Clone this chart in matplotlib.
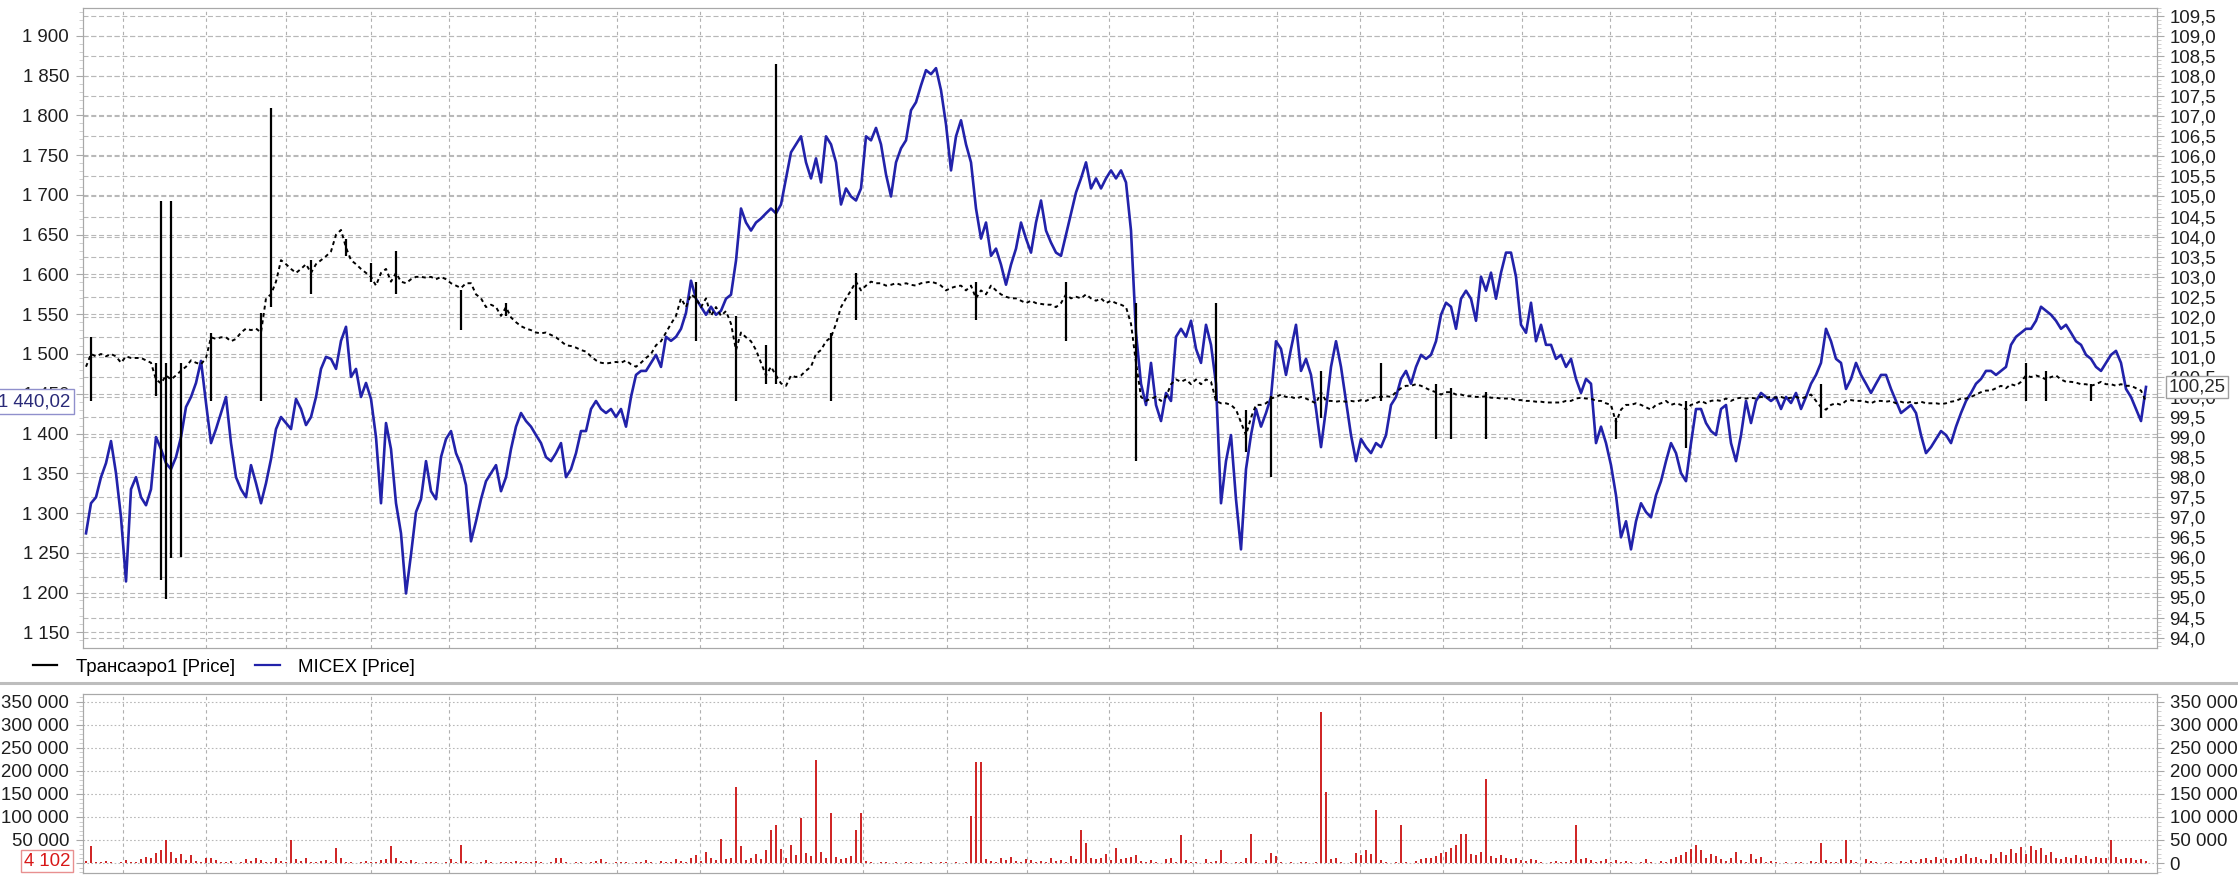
import matplotlib
matplotlib.use('Agg')
import matplotlib.pyplot as plt
from matplotlib.ticker import MultipleLocator, FuncFormatter
from matplotlib.transforms import blended_transform_factory
from matplotlib.lines import Line2D
import numpy as np

# MICEX [Price], right axis (one value per bar)
micex = [
    96.6, 97.35, 97.5, 98.0, 98.35, 98.9, 98.1, 97.0, 95.4, 97.7,
    98.0, 97.5, 97.3, 97.7, 99.0, 98.7, 98.35, 98.2, 98.5, 99.0,
    99.75, 100.0, 100.35, 100.9, 99.85, 98.85, 99.2, 99.6, 100.0, 98.85,
    98.0, 97.7, 97.5, 98.3, 97.85, 97.35, 97.85, 98.45, 99.2, 99.5,
    99.35, 99.2, 99.95, 99.7, 99.3, 99.5, 100.0, 100.7, 101.0, 100.95,
    100.7, 101.4, 101.75, 100.5, 100.7, 100.0, 100.35, 99.95, 99.0, 97.35,
    99.35, 98.7, 97.35,
    96.6, 95.1, 96.07, 97.13, 97.45, 98.4, 97.65, 97.45, 98.5, 98.95,
    99.15, 98.6, 98.3, 97.8, 96.4, 96.9, 97.45, 97.9, 98.1, 98.3,
    97.65, 98.0, 98.7, 99.26, 99.6, 99.4, 99.26, 99.05, 98.85, 98.5,
    98.4, 98.6, 98.85, 98.0, 98.2, 98.6, 99.15, 99.15, 99.7, 99.9,
    99.7, 99.6,
    99.7, 99.5, 99.7, 99.26, 100.0, 100.55, 100.65, 100.65, 100.85, 101.05,
    100.75, 101.5, 101.4, 101.5, 101.7, 102.1, 102.9, 102.45, 102.25, 102.05,
    102.25, 102.05, 102.15, 102.45, 102.55, 103.4, 104.7, 104.35, 104.15, 104.35,
    104.45, 104.58, 104.7, 104.58, 104.8, 105.45, 106.1, 106.3, 106.5, 105.85,
    105.45, 105.95, 105.35, 106.5, 106.3, 105.85, 104.8, 105.2, 105.0, 104.9,
    105.2, 106.5, 106.4, 106.71, 106.3, 105.55, 105.0, 105.85, 106.2, 106.4,
    107.15, 107.35, 107.77, 108.15, 108.05, 108.2, 107.65, 106.8, 105.65, 106.5,
    106.9, 106.3, 105.85, 104.7, 103.95, 104.35, 103.52, 103.7, 103.3, 102.8,
    103.3, 103.7, 104.35, 103.95, 103.6, 104.35, 104.9, 104.15, 103.85, 103.6,
    103.52, 104.05, 104.58, 105.1, 105.45, 105.85, 105.2, 105.45, 105.2, 105.45,
    105.65, 105.45, 105.65, 105.35,
    104.15, 101.6, 100.33, 99.8, 100.85, 99.8, 99.4, 100.1, 99.9, 101.5,
    101.7, 101.5, 101.9, 101.2, 100.85, 101.8, 101.3, 100.33, 97.35, 98.4,
    99.05, 97.45, 96.2, 98.2, 99.05, 99.7, 99.26, 99.6, 100.0, 101.39,
    101.2, 100.55, 101.2, 101.8, 100.65, 100.95, 100.55, 99.7, 98.75, 99.7,
    100.75, 101.39, 100.75, 99.9, 99.05, 98.4, 98.95, 98.75, 98.6, 98.85,
    98.75, 99.05, 99.8, 100.0, 100.45, 100.65, 100.33, 100.75, 101.05, 100.95,
    101.05, 101.39, 102.05, 102.35, 102.25, 101.7, 102.45, 102.65, 102.45, 101.9,
    103.0, 102.65, 103.1, 102.45, 103.1, 103.6, 103.6, 103.0, 101.8, 101.6,
    102.35, 101.39, 101.8, 101.3, 101.3, 100.95, 101.05, 100.75, 100.95, 100.45,
    100.1, 100.45, 100.33, 98.85, 99.26, 98.85, 98.3, 97.55, 96.5, 96.9,
    96.2, 96.9, 97.35, 97.13,
    97.0, 97.55, 97.9, 98.4, 98.85, 98.6, 98.1, 97.9, 98.85, 99.7,
    99.7, 99.35, 99.15, 99.05, 99.7, 99.8, 98.85, 98.4, 99.05, 99.9,
    99.35, 99.9, 100.1, 100.0, 99.9, 100.0, 99.7, 100.0, 99.85, 100.1,
    99.7, 100.0, 100.33, 100.55, 100.85, 101.7, 101.39, 100.95, 100.85, 100.2,
    100.45, 100.85, 100.55, 100.33, 100.1, 100.33, 100.55, 100.55, 100.2, 99.9,
    99.6, 99.7, 99.8, 99.6, 99.05, 98.6, 98.75, 98.95, 99.15, 99.05,
    98.85, 99.26, 99.6, 99.9, 100.1, 100.33, 100.45, 100.65, 100.65, 100.55,
    100.65, 100.75, 101.3, 101.5, 101.6, 101.7, 101.7, 101.9, 102.25, 102.15,
    102.05, 101.9, 101.7, 101.8, 101.6, 101.39, 101.3, 101.05, 100.95, 100.75,
    100.65, 100.85, 101.05, 101.15, 100.85, 100.2, 100.0, 99.7, 99.4, 100.25,
]

# Трансаэро1 [Price], left axis
trans = [
    1484, 1500, 1497, 1500, 1497, 1500, 1497, 1489, 1497, 1495,
    1495, 1495, 1492, 1489, 1468, 1463, 1473, 1468, 1473, 1479,
    1484, 1492, 1489, 1487, 1495, 1521, 1519, 1521, 1521, 1516,
    1519, 1527, 1532, 1530, 1532, 1527, 1570, 1575, 1591, 1618,
    1613, 1607, 1602, 1607, 1613, 1602, 1613, 1618, 1623, 1629,
    1650, 1656, 1634, 1618, 1613, 1607, 1602, 1597, 1586, 1602,
    1607, 1591, 1602, 1591, 1589, 1594, 1597, 1597, 1596, 1597,
    1594, 1597, 1594, 1589, 1586, 1583, 1589, 1589, 1575, 1570,
    1559, 1562, 1559, 1548, 1559, 1546, 1540, 1535, 1532, 1530,
    1527, 1526, 1527, 1524, 1521, 1516, 1511, 1510, 1508, 1505,
    1503, 1497, 1492, 1489, 1488,
    1489, 1490, 1489, 1492, 1487, 1484, 1489, 1495, 1500, 1511,
    1516, 1527, 1538, 1548, 1570, 1559, 1575, 1570, 1559, 1570,
    1548, 1559, 1548, 1554, 1538, 1505, 1527, 1521, 1516, 1505,
    1489, 1473, 1484, 1473, 1463, 1460, 1473, 1471, 1473, 1479,
    1484, 1500, 1505, 1516, 1521, 1538, 1559, 1570, 1580, 1591,
    1580, 1586, 1591, 1589, 1589, 1586, 1587, 1589, 1587, 1589,
    1587, 1586, 1589, 1590, 1591, 1589, 1586, 1580, 1583, 1585,
    1586, 1580, 1586, 1570, 1580, 1575, 1586, 1580, 1575, 1572,
    1570, 1570, 1567, 1564, 1567, 1564, 1563, 1562, 1562, 1559,
    1564, 1575, 1570, 1572, 1570, 1575, 1570, 1567, 1570, 1564,
    1567, 1564, 1562, 1559,
    1538, 1489, 1446, 1441, 1444, 1446, 1441, 1446, 1462, 1468,
    1465, 1468, 1462, 1468, 1462, 1468, 1465, 1441, 1438, 1438,
    1436, 1430, 1414, 1398, 1420, 1436, 1436, 1438, 1444, 1446,
    1449, 1446, 1446, 1444, 1446, 1444, 1441, 1438, 1452, 1441,
    1441, 1440, 1441, 1440, 1441, 1440, 1442, 1441, 1444, 1446,
    1446, 1447, 1446, 1452, 1457, 1460, 1460, 1462, 1460, 1457,
    1454, 1452, 1449, 1452, 1452, 1449, 1449, 1447, 1447, 1446,
    1446, 1447, 1445, 1445, 1444, 1444, 1444, 1442, 1442, 1441,
    1441, 1440, 1440, 1439, 1439, 1439, 1439, 1441, 1441, 1444,
    1445, 1444, 1444, 1441, 1441, 1438, 1436, 1414, 1430, 1436,
    1436, 1438, 1436, 1433,
    1430, 1436, 1438, 1441, 1436, 1438, 1436, 1430, 1436, 1438,
    1441, 1438, 1441, 1442, 1441, 1444, 1441, 1444, 1445, 1444,
    1445, 1444, 1446, 1445, 1446, 1445, 1446, 1444, 1445, 1446,
    1444, 1446, 1449, 1441, 1433, 1430, 1436, 1438, 1436, 1441,
    1442, 1441, 1441, 1440, 1438, 1441, 1441, 1440, 1441, 1438,
    1440, 1438, 1440, 1438, 1440, 1438, 1438, 1438, 1437, 1438,
    1440, 1441, 1444, 1444, 1446, 1449, 1452, 1454, 1454, 1457,
    1460, 1457, 1462, 1460, 1465, 1473, 1471, 1473, 1471, 1468,
    1471, 1473, 1468, 1465, 1465, 1464, 1462, 1462, 1460, 1462,
    1465, 1462, 1462, 1460, 1462, 1460, 1460, 1457, 1454, 1440.02,
]

# wide-range bars of Трансаэро1 (bar index, low, high)
spike_idx = [1, 14, 15, 16, 17, 19, 25, 35, 37, 45, 52, 57, 62, 75, 84,
             122, 130, 136, 138, 149, 154, 178, 196, 210, 226, 232, 237,
             247, 259, 270, 273, 280, 306, 320, 347, 388, 392, 401]
spike_lo = [1441, 1447, 1216, 1192, 1243, 1245, 1441, 1441, 1559, 1575, 1623, 1591, 1575, 1530, 1548,
            1516, 1441, 1462, 1462, 1441, 1543, 1543, 1516, 1366, 1441, 1377, 1345,
            1420, 1441, 1393, 1393, 1393, 1393, 1382, 1420, 1441, 1441, 1441]
spike_hi = [1521, 1489, 1693, 1489, 1693, 1489, 1527, 1551, 1810, 1618, 1645, 1615, 1629, 1580, 1564,
            1591, 1548, 1511, 1865, 1527, 1602, 1591, 1591, 1564, 1564, 1430, 1447,
            1478, 1489, 1462, 1457, 1452, 1420, 1441, 1462, 1489, 1478, 1462]

# volume, thousands
volume_k = [
    4, 36, 3, 2, 5, 2, 1, 3, 6, 2, 3, 8, 14, 10, 22, 28, 50, 24, 12, 20,
    6, 18, 4, 2, 12, 10, 6, 3, 2, 5, 1, 3, 8, 4, 10, 6, 2, 3, 12, 5,
    2, 50, 8, 5, 12, 3, 2, 4, 6, 3, 32, 10, 2, 3, 1, 2, 4, 2, 3, 6,
    8, 36, 10, 4, 2, 6, 3, 1, 2, 3, 2, 1, 3, 8, 2, 40, 4, 2, 1, 3,
    6, 2, 1, 2, 3, 2, 4, 2, 3, 2, 4, 2, 1, 3, 10, 12, 3, 1, 2, 3,
    1, 2, 4, 8, 2, 1, 2, 3, 2, 1, 2, 3, 6, 2, 1, 4, 2, 3, 8, 5,
    2, 10, 18, 4, 24, 12, 6, 53, 8, 10, 165, 36, 6, 12, 20, 8, 28, 72, 82, 30,
    12, 40, 18, 97, 22, 16, 223, 24, 10, 108, 14, 8, 12, 16, 72, 109, 4, 2, 1, 2,
    3, 1, 2, 1, 2, 3, 1, 2, 1, 2, 1, 2, 3, 1, 2, 1, 2, 103, 219, 219,
    8, 4, 2, 12, 6, 14, 4, 2, 8, 6, 3, 4, 2, 12, 4, 6, 2, 16, 8, 72,
    43, 10, 8, 12, 20, 6, 32, 8, 12, 14, 18, 4, 2, 6, 2, 1, 8, 10, 2, 61,
    6, 3, 2, 1, 8, 3, 4, 29, 2, 1, 3, 2, 10, 64, 2, 1, 6, 22, 16, 2,
    1, 2, 1, 2, 3, 1, 2, 328, 154, 8, 10, 2, 1, 2, 22, 18, 28, 20, 115, 6,
    3, 1, 2, 82, 2, 1, 4, 8, 12, 10, 16, 22, 24, 32, 40, 64, 64, 20, 18, 24,
    183, 16, 12, 18, 10, 8, 12, 6, 4, 8, 6, 2, 1, 2, 4, 2, 3, 6, 82, 8,
    12, 6, 2, 4, 8, 3, 6, 2, 4, 3, 1, 2, 8, 2, 1, 4, 2, 8, 14, 18,
    24, 30, 40, 28, 12, 20, 16, 8, 4, 12, 24, 6, 3, 20, 8, 14, 2, 4, 2, 1,
    2, 1, 3, 2, 1, 4, 2, 43, 6, 3, 2, 8, 50, 6, 2, 1, 8, 4, 2, 1,
    2, 3, 1, 4, 2, 6, 3, 8, 12, 6, 14, 8, 10, 6, 12, 16, 20, 10, 14, 8,
    6, 20, 12, 24, 18, 30, 22, 34, 20, 36, 28, 32, 18, 24, 12, 8, 14, 10, 18, 12,
    16, 8, 14, 10, 12, 50, 14, 8, 12, 10, 6, 8, 4.102,
]

# month boundaries (bar index)
month_marks = [7.4, 24.0, 40.0, 57.0, 72.5, 89.8, 106.2, 122.8, 139.4, 155.4,
               172.1, 188.2, 204.6, 221.4, 238.2, 254.8, 271.4, 287.2, 304.7,
               321.0, 337.8, 354.8, 371.3, 387.8, 404.4]


def fmt_space(v, pos):
    return '{:,.0f}'.format(v).replace(',', ' ')


def fmt_comma(v, pos):
    return '{:.1f}'.format(v).replace('.', ',')


def style_axis(a, side):
    for s in a.spines.values():
        s.set_color('#a8a8a8')
    a.tick_params(axis='y', which='major', direction='out', length=5,
                  color='#a8a8a8', labelcolor='#1e1e1e', pad=5, labelsize=13.4)
    a.tick_params(axis='y', which='minor', direction='out', length=3,
                  color='#c8c8c8')
    a.tick_params(axis='x', which='both', bottom=False, top=False,
                  labelbottom=False)
    if side == 'left':
        a.tick_params(axis='y', which='both', left=True, right=False,
                      labelleft=True, labelright=False)
    else:
        a.tick_params(axis='y', which='both', left=False, right=True,
                      labelleft=False, labelright=True)


def main():
    plt.rcParams['font.family'] = ['Liberation Sans', 'DejaVu Sans']
    plt.rcParams['font.size'] = 13.4

    n = len(micex)
    assert len(trans) == n and len(volume_k) == n, (len(micex), len(trans), len(volume_k))
    x = np.arange(n)
    W, H = 2238.0, 877.0

    fig = plt.figure(figsize=(22.38, 8.77), dpi=100, facecolor='w')

    # ---- price panel
    ax = fig.add_axes([83 / W, 1 - 648 / H, 2074 / W, 640 / H])
    ax2 = ax.twinx()
    ax.set_zorder(2)
    ax2.set_zorder(1)
    ax.patch.set_visible(False)

    ax.set_xlim(-0.6, 414.2)
    ax.set_ylim(1130.2, 1935.2)
    ax2.set_ylim(93.74, 109.7)

    ax.yaxis.set_major_locator(MultipleLocator(50))
    ax.yaxis.set_minor_locator(MultipleLocator(10))
    ax.yaxis.set_major_formatter(FuncFormatter(fmt_space))
    ax2.yaxis.set_major_locator(MultipleLocator(0.5))
    ax2.yaxis.set_minor_locator(MultipleLocator(0.1))
    ax2.yaxis.set_major_formatter(FuncFormatter(fmt_comma))
    style_axis(ax, 'left')
    style_axis(ax2, 'right')
    ax2.tick_params(axis='y', pad=4)

    # grid (all in the lower axes so the lines stay on top)
    gcol = '#b8b8b8'
    ax2.yaxis.grid(True, which='major', color=gcol, lw=0.8, ls=(0, (4.5, 2.5)))
    tr = blended_transform_factory(ax2.transAxes, ax.transData)
    for v in np.arange(1150, 1901, 50):
        ax2.plot([0, 1], [v, v], transform=tr, color=gcol, lw=0.8,
                 ls=(0, (4.5, 2.5)), zorder=0.5)
    for m in month_marks:
        ax2.axvline(m, color='#b0b0b0', lw=0.8, ls=(0, (3, 3)), zorder=0.5)

    ax2.plot(x, micex, color='#2222aa', lw=1.9, zorder=2)
    ax.plot(x, trans, color='black', lw=1.4, ls=(0, (2, 1.8)), zorder=3)
    ax.vlines(spike_idx, spike_lo, spike_hi, color='black', lw=1.6, zorder=3)

    btr = blended_transform_factory(ax.transAxes, ax.transData)
    ax.text(-0.0063, trans[-1], '1 440,02', transform=btr, ha='right',
            va='center', color='#2a2a78', fontsize=13.4, clip_on=False,
            zorder=10,
            bbox=dict(boxstyle='square,pad=0.22', fc='white', ec='#9090cc', lw=1))
    btr2 = blended_transform_factory(ax2.transAxes, ax2.transData)
    ax2.text(1.0055, micex[-1], '100,25', transform=btr2, ha='left',
             va='center', color='#2a2a2a', fontsize=13.4, clip_on=False,
             zorder=10,
             bbox=dict(boxstyle='square,pad=0.15', fc='white', ec='#a0a0a0', lw=1))

    # legend
    handles = [Line2D([], [], color='black', lw=1.6),
               Line2D([], [], color='#2222aa', lw=1.6)]
    fig.legend(handles, ['Трансаэро1 [Price]', 'MICEX [Price]'],
               loc='center left', bbox_to_anchor=(33 / W, 1 - 667 / H), ncol=2,
               frameon=False, handlelength=1.3, handletextpad=1.0,
               columnspacing=1.1, borderpad=0, borderaxespad=0, fontsize=13.4)

    # separator
    fig.add_artist(Line2D([0, 1], [1 - 683 / H, 1 - 683 / H],
                          transform=fig.transFigure, color='#bdbdbd', lw=2.2))

    # ---- volume panel
    bx = fig.add_axes([83 / W, 1 - 873 / H, 2074 / W, 179 / H])
    bx2 = bx.twinx()
    bx.set_zorder(2)
    bx2.set_zorder(1)
    bx.patch.set_visible(False)
    bx.set_xlim(-0.6, 414.2)
    for a in (bx, bx2):
        a.set_ylim(-21600, 366700)
        a.yaxis.set_major_locator(MultipleLocator(50000))
        a.yaxis.set_minor_locator(MultipleLocator(10000))
        a.yaxis.set_major_formatter(FuncFormatter(fmt_space))
    style_axis(bx, 'left')
    style_axis(bx2, 'right')
    bx2.tick_params(axis='y', pad=4)
    bx2.yaxis.grid(True, which='major', color=gcol, lw=0.8, ls=(0, (1.5, 2)))
    for m in month_marks:
        bx2.axvline(m, color='#b0b0b0', lw=0.8, ls=(0, (3, 3)), zorder=0.5)

    vol = np.array(volume_k) * 1000
    bx.vlines(x, 0, vol, color='#cc1010', lw=1.3, zorder=3)

    vtr = blended_transform_factory(bx.transAxes, bx.transData)
    bx.text(-0.0063, vol[-1], '4 102', transform=vtr, ha='right', va='center',
            color='#d81818', fontsize=13.4, clip_on=False, zorder=10,
            bbox=dict(boxstyle='square,pad=0.15', fc='white', ec='#e89090', lw=1))

    plt.savefig('out.png', dpi=100, facecolor='w')


if __name__ == '__main__':
    main()
